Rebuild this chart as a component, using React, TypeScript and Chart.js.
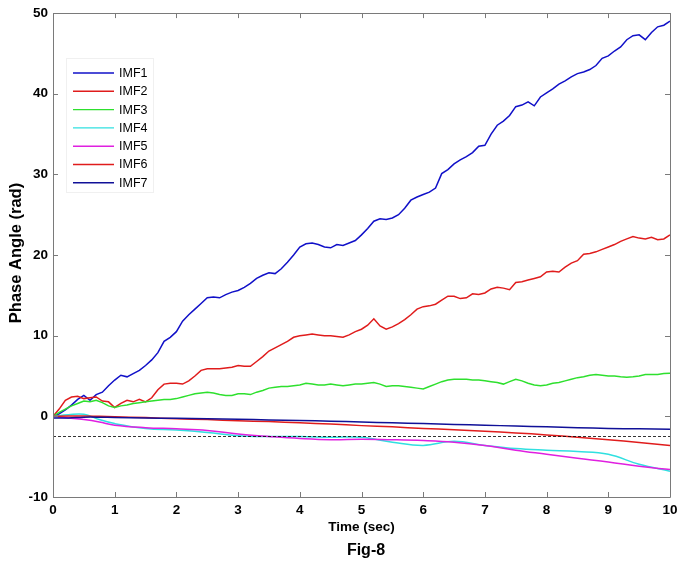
import React, { useEffect, useRef } from "react";
import { Chart, registerables } from "chart.js";
Chart.register(...registerables);

// time axis (s) for the fluctuating modes
const TIME = [
  0, 0.1, 0.2, 0.3, 0.4, 0.5, 0.6, 0.7, 0.8, 0.9,
  1, 1.1, 1.2, 1.3, 1.4, 1.5, 1.6, 1.7, 1.8, 1.9,
  2, 2.1, 2.2, 2.3, 2.4, 2.5, 2.6, 2.7, 2.8, 2.9,
  3, 3.1, 3.2, 3.3, 3.4, 3.5, 3.6, 3.7, 3.8, 3.9,
  4, 4.1, 4.2, 4.3, 4.4, 4.5, 4.6, 4.7, 4.8, 4.9,
  5, 5.1, 5.2, 5.3, 5.4, 5.5, 5.6, 5.7, 5.8, 5.9,
  6, 6.1, 6.2, 6.3, 6.4, 6.5, 6.6, 6.7, 6.8, 6.9,
  7, 7.1, 7.2, 7.3, 7.4, 7.5, 7.6, 7.7, 7.8, 7.9,
  8, 8.1, 8.2, 8.3, 8.4, 8.5, 8.6, 8.7, 8.8, 8.9,
  9, 9.1, 9.2, 9.3, 9.4, 9.5, 9.6, 9.7, 9.8, 9.9,
  10,
];

const IMF1 = [
  0, 0.3, 0.8, 1.4, 2.1, 2.6, 2.0, 2.7, 3.0, 3.8,
  4.5, 5.1, 4.9, 5.3, 5.7, 6.3, 7.0, 7.9, 9.3, 9.8,
  10.5, 11.8, 12.6, 13.3, 14.0, 14.7, 14.8, 14.7, 15.1, 15.4,
  15.6, 16.0, 16.5, 17.1, 17.5, 17.8, 17.7, 18.3, 19.1, 20.0,
  21.0, 21.4, 21.5, 21.3, 21.0, 20.9, 21.3, 21.2, 21.5, 21.8,
  22.5, 23.3, 24.2, 24.5, 24.4, 24.6, 25.0, 25.8, 26.8, 27.2,
  27.5, 27.8, 28.3, 30.1, 30.6, 31.3, 31.8, 32.2, 32.7, 33.5,
  33.6, 35.0, 36.1, 36.6, 37.3, 38.4, 38.6, 39.0, 38.5, 39.6,
  40.1, 40.6, 41.2, 41.6, 42.1, 42.5, 42.7, 43.0, 43.5, 44.4,
  44.7, 45.3, 45.8, 46.7, 47.2, 47.3, 46.7, 47.6, 48.3, 48.5,
  49.0,
];

const IMF2 = [
  0, 0.9, 2.0, 2.4, 2.5, 2.2, 2.3, 2.4, 1.9, 1.8,
  1.1, 1.6, 2.0, 1.8, 2.1, 1.8, 2.3, 3.3, 4.0, 4.1,
  4.1, 4.0, 4.4, 5.0, 5.7, 5.9, 5.9, 5.9, 6.0, 6.1,
  6.3, 6.2, 6.2, 6.8, 7.4, 8.1, 8.5, 8.9, 9.3, 9.8,
  10.0, 10.1, 10.2, 10.1, 10.0, 10.0, 9.9, 9.8, 10.1, 10.5,
  10.8, 11.3, 12.1, 11.2, 10.8, 11.1, 11.5, 12.0, 12.6, 13.3,
  13.6, 13.7, 13.9, 14.4, 14.9, 14.9, 14.6, 14.7, 15.2, 15.1,
  15.3, 15.8, 16.0, 15.9, 15.7, 16.6, 16.7, 16.9, 17.1, 17.3,
  17.9, 18.0, 17.9, 18.5, 19.0, 19.3, 20.1, 20.2, 20.4, 20.7,
  21.0, 21.3, 21.7, 22.0, 22.3, 22.1, 22.0, 22.2, 21.9, 22.0,
  22.5,
];

const IMF3 = [
  0, 0.5, 0.9, 1.3, 1.6, 1.9, 1.8, 2.0, 1.7, 1.3,
  1.1, 1.3, 1.4, 1.6, 1.7, 1.8, 1.9, 2.0, 2.1, 2.1,
  2.2, 2.4, 2.6, 2.8, 2.9, 3.0, 2.9, 2.7, 2.6, 2.6,
  2.8, 2.8, 2.7, 3.0, 3.2, 3.5, 3.6, 3.7, 3.7, 3.8,
  3.9, 4.1, 4.0, 3.9, 3.9, 4.0, 3.9, 3.8, 3.9, 4.0,
  4.0, 4.1, 4.2, 4.0, 3.7, 3.8, 3.8, 3.7, 3.6, 3.5,
  3.4, 3.7, 4.0, 4.3, 4.5, 4.6, 4.6, 4.6, 4.5, 4.5,
  4.4, 4.3, 4.2, 4.0, 4.3, 4.6, 4.4, 4.1, 3.9, 3.8,
  3.9, 4.1, 4.2, 4.4, 4.6, 4.8, 4.9, 5.1, 5.2, 5.1,
  5.0, 5.0, 4.9, 4.85, 4.9, 5.0, 5.2, 5.2, 5.2, 5.3,
  5.35,
];

// time axis (s) for the slow modes
const TIME_SLOW = [0, 0.25, 0.5, 0.75, 1, 1.5, 2, 2.5, 3, 3.5, 4, 4.5, 5, 5.5, 6, 6.5, 7, 7.5, 8, 8.5, 9, 9.5, 10];

const IMF4 = [0, 0.2, 0.25, -0.4, -0.9, -1.5, -1.7, -2.0, -2.4, -2.5, -2.5, -2.6, -2.6, -3.2, -3.6, -3.1, -3.6, -4.0, -4.2, -4.35, -4.7, -5.95, -6.8];
const IMF5 = [0, -0.2, -0.4, -0.7, -1.1, -1.4, -1.55, -1.75, -2.2, -2.5, -2.75, -2.9, -2.85, -2.9, -3.0, -3.2, -3.6, -4.2, -4.7, -5.2, -5.65, -6.2, -6.6];
const IMF6 = [0, 0.05, 0.05, 0, -0.05, -0.15, -0.3, -0.4, -0.55, -0.65, -0.8, -0.95, -1.15, -1.3, -1.5, -1.65, -1.85, -2.05, -2.3, -2.6, -2.9, -3.25, -3.6];
const IMF7 = [-0.2, -0.2, -0.1, -0.1, -0.15, -0.2, -0.25, -0.3, -0.35, -0.45, -0.5, -0.6, -0.7, -0.8, -0.9, -1.0, -1.1, -1.2, -1.3, -1.4, -1.5, -1.55, -1.6];

const THRESHOLD_T = [0, 10];
const THRESHOLD_V = [-2.5, -2.5];

const SERIES_NAMES = ["IMF1", "IMF2", "IMF3", "IMF4", "IMF5", "IMF6", "IMF7"];
const SERIES_COLORS = ["#1010c8", "#e01c1c", "#2ee02e", "#30e0e0", "#e020e0", "#e01c1c", "#101098"];

const X_TICKS = [0, 1, 2, 3, 4, 5, 6, 7, 8, 9, 10];
const Y_TICKS = [-10, 0, 10, 20, 30, 40, 50];

const FONT = "'Liberation Sans', Arial, Helvetica, sans-serif";

function pts(xs: number[], ys: number[]) {
  return xs.map((x, i) => ({ x, y: ys[i] }));
}

const framePlugin = {
  id: "frame",
  afterDatasetsDraw(chart: any) {
    const { ctx, chartArea: a, scales } = chart;
    const xs = scales.x;
    const ys = scales.y;
    ctx.save();
    ctx.strokeStyle = "#7a7a7a";
    ctx.lineWidth = 1;
    ctx.beginPath();
    ctx.rect(Math.round(a.left) + 0.5, Math.round(a.top) + 0.5, Math.round(a.right - a.left), Math.round(a.bottom - a.top));
    ctx.stroke();
    const tl = 5;
    ctx.beginPath();
    X_TICKS.forEach((t) => {
      const px = Math.round(xs.getPixelForValue(t)) + 0.5;
      ctx.moveTo(px, a.bottom);
      ctx.lineTo(px, a.bottom - tl);
      ctx.moveTo(px, a.top);
      ctx.lineTo(px, a.top + tl);
    });
    Y_TICKS.forEach((v) => {
      const py = Math.round(ys.getPixelForValue(v)) + 0.5;
      ctx.moveTo(a.left, py);
      ctx.lineTo(a.left + tl, py);
      ctx.moveTo(a.right, py);
      ctx.lineTo(a.right - tl, py);
    });
    ctx.stroke();

    // legend
    const lx = 66, ly = 58, lw = 87, lh = 134;
    ctx.fillStyle = "#ffffff";
    ctx.fillRect(lx, ly, lw, lh);
    ctx.strokeStyle = "#f0f0f0";
    ctx.strokeRect(lx + 0.5, ly + 0.5, lw, lh);
    ctx.font = `12.5px ${FONT}`;
    ctx.textBaseline = "middle";
    ctx.textAlign = "left";
    SERIES_NAMES.forEach((n, i) => {
      const y = 73 + i * 18.3;
      ctx.strokeStyle = SERIES_COLORS[i];
      ctx.lineWidth = 1.4;
      ctx.beginPath();
      ctx.moveTo(73, y);
      ctx.lineTo(114, y);
      ctx.stroke();
      ctx.fillStyle = "#000000";
      ctx.fillText(n, 119, y + 0.5);
    });

    // titles
    ctx.fillStyle = "#000000";
    ctx.textAlign = "center";
    ctx.font = `bold 13.5px ${FONT}`;
    ctx.fillText("Time (sec)", (a.left + a.right) / 2, 527);
    ctx.font = `bold 16px ${FONT}`;
    ctx.fillText("Fig-8", 366, 551);
    ctx.save();
    ctx.translate(16, 253);
    ctx.rotate(-Math.PI / 2);
    ctx.font = `bold 16.5px ${FONT}`;
    ctx.fillText("Phase Angle (rad)", 0, 0);
    ctx.restore();
    ctx.restore();
  },
};

export default function App() {
  const ref = useRef<HTMLCanvasElement | null>(null);
  useEffect(() => {
    document.body.style.margin = "0";
    const canvas = ref.current!;
    const series = [
      pts(TIME, IMF1),
      pts(TIME, IMF2),
      pts(TIME, IMF3),
      pts(TIME_SLOW, IMF4),
      pts(TIME_SLOW, IMF5),
      pts(TIME_SLOW, IMF6),
      pts(TIME_SLOW, IMF7),
    ];
    const datasets: any[] = series.map((d, i) => ({
      label: SERIES_NAMES[i],
      data: d,
      borderColor: SERIES_COLORS[i],
      backgroundColor: SERIES_COLORS[i],
      borderWidth: 1.5,
      pointRadius: 0,
      tension: i >= 3 ? 0.4 : 0,
      fill: false,
      order: 7 - i,
    }));
    datasets.push({
      label: "threshold",
      data: pts(THRESHOLD_T, THRESHOLD_V),
      borderColor: "#000000",
      borderWidth: 0.8,
      borderDash: [3, 2],
      pointRadius: 0,
      fill: false,
      order: -1,
    });
    const chart = new Chart(canvas, {
      type: "line",
      data: { datasets },
      options: {
        animation: false,
        responsive: false,
        layout: { padding: { left: 0, right: 13, top: 11, bottom: 0 } },
        plugins: { legend: { display: false }, tooltip: { enabled: false } },
        scales: {
          x: {
            type: "linear",
            min: 0,
            max: 10,
            afterFit: (s: any) => { s.height = 77; },
            afterBuildTicks: (s: any) => { s.ticks = X_TICKS.map((v) => ({ value: v })); },
            grid: { display: false, drawTicks: false },
            border: { display: false },
            ticks: { padding: 5, color: "#000", font: { family: FONT, size: 13.5, weight: "bold" }, maxRotation: 0, autoSkip: false },
          },
          y: {
            type: "linear",
            min: -10,
            max: 50,
            afterFit: (s: any) => { s.width = 53; },
            afterBuildTicks: (s: any) => { s.ticks = Y_TICKS.map((v) => ({ value: v })); },
            grid: { display: false, drawTicks: false },
            border: { display: false },
            ticks: { padding: 5, color: "#000", font: { family: FONT, size: 13.5, weight: "bold" }, autoSkip: false },
          },
        },
      },
      plugins: [framePlugin],
    });
    return () => chart.destroy();
  }, []);
  return (
    <div style={{ width: 683, height: 574, background: "#fff" }}>
      <canvas ref={ref} width={683} height={574} style={{ display: "block" }} />
    </div>
  );
}
